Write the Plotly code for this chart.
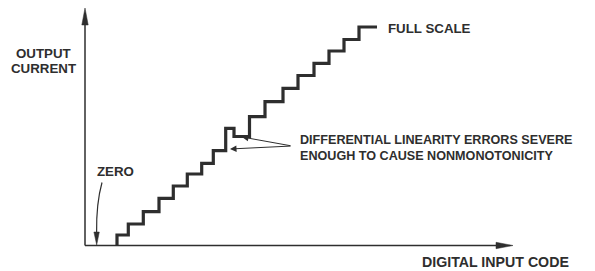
import plotly.graph_objects as go

# ---- data (code position of each riser, output-current level) ----
codes = [32, 43.3, 58.3, 74, 88.3, 102.3, 116.7, 128.3, 140.7, 149,
         164.5, 180, 198, 213, 229, 244, 259, 274, 292]
current = [0, 10.5, 21.5, 33.8, 47.2, 59.5, 71.5, 82.2, 94.8, 117.2,
           109, 128.8, 143.8, 157.2, 170, 182.2, 194.5, 206, 218.5]

x_label = "DIGITAL INPUT CODE"
y_label = ["OUTPUT", "CURRENT"]
zero_label = "ZERO"
full_label = "FULL SCALE"
note_lines = ["DIFFERENTIAL LINEARITY ERRORS SEVERE",
              "ENOUGH TO CAUSE NONMONOTONICITY"]

INK = "#2e2e2e"
FONT = "Liberation Sans, Arial, Helvetica, sans-serif"

X_MAX = 428      # x-axis arrow tip
Y_MAX = 237.5    # y-axis arrow tip

fig = go.Figure()

fig.add_trace(go.Scatter(
    x=codes, y=current, mode="lines",
    line=dict(shape="vh", color=INK, width=3.2),
    hoverinfo="skip", showlegend=False,
))

shapes = [
    # axes
    dict(type="line", x0=0, y0=0, x1=X_MAX - 8, y1=0,
         line=dict(color=INK, width=1.5)),
    dict(type="line", x0=0, y0=0, x1=0, y1=Y_MAX - 8,
         line=dict(color=INK, width=1.5)),
    # arrowheads of axes
    dict(type="path", path=f"M {X_MAX} 0 L {X_MAX-17} 3.2 L {X_MAX-17} -3.2 Z",
         fillcolor=INK, line=dict(color=INK, width=0.5)),
    dict(type="path", path=f"M 0 {Y_MAX} L -3.2 {Y_MAX-17} L 3.2 {Y_MAX-17} Z",
         fillcolor=INK, line=dict(color=INK, width=0.5)),
    # ZERO pointer (curved) and its head
    dict(type="path", path="M 17 63 Q 11.2 42 11.6 13",
         line=dict(color=INK, width=1.2)),
    dict(type="path", path="M 11.7 0.5 L 8.9 13.5 L 14.3 13.5 Z",
         fillcolor=INK, line=dict(color=INK, width=0.5)),
]

annotations = []
tf = dict(family=FONT, color=INK, weight="bold")

annotations.append(dict(x=-41.5, y=192.5, text=y_label[0], showarrow=False,
                        xanchor="center", yanchor="middle",
                        font=dict(size=13.3, **tf)))
annotations.append(dict(x=-42, y=177, text=y_label[1], showarrow=False,
                        xanchor="center", yanchor="middle",
                        font=dict(size=13.3, **tf)))
annotations.append(dict(x=9.5, y=74, text=zero_label, showarrow=False,
                        xanchor="left", yanchor="middle",
                        font=dict(size=13.3, **tf)))
annotations.append(dict(x=301, y=217.5, text=full_label, showarrow=False,
                        xanchor="left", yanchor="middle",
                        font=dict(size=13.3, **tf)))
annotations.append(dict(x=212.5, y=97.6, text="<br>".join(note_lines),
                        showarrow=False, align="left",
                        xanchor="left", yanchor="middle",
                        font=dict(size=12.6, **tf)))
annotations.append(dict(x=334.5, y=-16.5, text=x_label, showarrow=False,
                        xanchor="left", yanchor="middle",
                        font=dict(size=14.2, **tf)))

# pointers to the non-monotonic step
for tip in [(145, 96.5), (157, 108.5)]:
    annotations.append(dict(
        x=tip[0], y=tip[1], ax=207, ay=99.5, axref="x", ayref="y",
        xref="x", yref="y", text="", showarrow=True,
        arrowhead=2, arrowsize=1.3, arrowwidth=1, arrowcolor=INK,
    ))

fig.update_layout(
    width=595, height=271,
    margin=dict(l=0, r=0, t=0, b=0),
    paper_bgcolor="white", plot_bgcolor="white",
    xaxis=dict(range=[-85, 510], visible=False, fixedrange=True),
    yaxis=dict(range=[-25.5, 245.5], visible=False, fixedrange=True),
    shapes=shapes, annotations=annotations,
    showlegend=False,
)

fig.write_html("out.html", config={"displayModeBar": False},
               post_script="document.body.style.margin='0px';")
